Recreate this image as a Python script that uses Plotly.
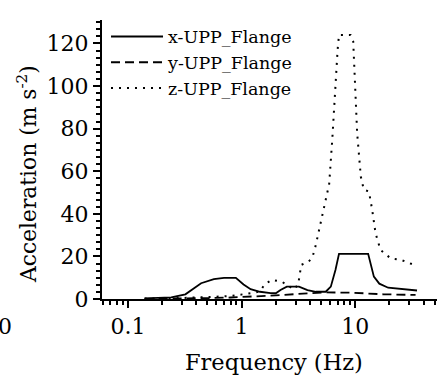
import plotly.graph_objects as go

freq_x = [0.14, 0.24, 0.32, 0.36, 0.44, 0.57, 0.70, 0.89, 1.04, 1.2, 1.45, 1.8, 2.0, 2.2, 2.5, 3.2, 3.8, 4.5, 5.5, 6.1, 6.7, 7.2, 13.0, 14.6, 16.3, 19.5, 35.0]
acc_x = [0.3, 0.8, 2.2, 4.2, 7.4, 9.3, 9.9, 9.9, 6.8, 4.6, 3.4, 2.8, 2.7, 4.2, 5.8, 5.8, 4.2, 3.4, 3.4, 5.8, 13.6, 21.2, 21.2, 10.5, 7.2, 5.3, 4.0]

freq_y = [0.14, 0.3, 0.5, 0.8, 1.0, 1.5, 2.0, 3.0, 4.0, 5.3, 9.1, 17.8, 34.0]
acc_y = [0.1, 0.2, 0.4, 0.7, 0.9, 1.3, 1.7, 2.3, 2.7, 3.1, 3.0, 2.2, 1.9]

freq_z = [0.14, 0.24, 0.44, 0.8, 1.2, 1.45, 1.6, 1.86, 2.28, 2.6, 2.9, 3.15, 3.35, 3.9, 4.2, 4.5, 5.0, 5.5, 5.9, 6.3, 6.5, 6.7, 7.0, 7.2, 9.1, 9.6, 10.0, 10.4, 11.2, 11.9, 13.2, 14.1, 15.1, 16.7, 20.5, 25.2, 35.0]
acc_z = [0.2, 0.3, 0.8, 1.4, 2.7, 3.5, 7.0, 9.0, 8.0, 6.0, 4.5, 7.0, 16.0, 17.6, 19.5, 25.4, 36.4, 46.6, 54.0, 76.0, 89.0, 104.6, 117.0, 124.0, 124.0, 121.0, 101.5, 78.0, 57.5, 51.3, 50.5, 41.9, 30.9, 23.0, 19.1, 18.4, 15.5]

names = ["x-UPP_Flange", "y-UPP_Flange", "z-UPP_Flange"]

x_major = [0.1, 1, 10]
x_major_text = ["0.1", "1", "10"]
x_minor = [0.06, 0.07, 0.08, 0.09, 0.2, 0.3, 0.4, 0.5, 0.6, 0.7, 0.8, 0.9,
           2, 3, 4, 5, 6, 7, 8, 9, 20, 30, 40, 50]
y_major = [0, 20, 40, 60, 80, 100, 120]

FONT = "DejaVu Serif"

fig = go.Figure()
fig.add_trace(go.Scatter(x=freq_x, y=acc_x, mode="lines", name=names[0], legendgroup="a",
                         line=dict(color="black", width=1.8)))
fig.add_trace(go.Scatter(x=freq_y, y=acc_y, mode="lines", name=names[1], legendgroup="b",
                         line=dict(color="black", width=1.8, dash="9px,5px")))
fig.add_trace(go.Scatter(x=freq_z, y=acc_z, mode="lines", name=names[2], legendgroup="c",
                         line=dict(color="black", width=2, dash="2px,6px")))

fig.update_layout(
    width=439, height=376,
    margin=dict(l=102, r=2, t=20, b=77),
    plot_bgcolor="white", paper_bgcolor="white",
    font=dict(family=FONT, size=22, color="black"),
    showlegend=True,
    legend=dict(x=0.012, y=1.005, xanchor="left", yanchor="top",
                font=dict(family=FONT, size=17.5, color="black"),
                bgcolor="rgba(0,0,0,0)", itemwidth=52, tracegroupgap=0),
    xaxis=dict(type="log", range=[-1.229, 1.72],
               tickvals=x_major, ticktext=x_major_text,
               ticks="outside", ticklen=7, tickwidth=1.5, tickcolor="black",
               tickfont=dict(family=FONT, size=22),
               minor=dict(tickvals=x_minor, ticks="outside", ticklen=4, tickwidth=1.5, tickcolor="black"),
               showline=True, linecolor="black", linewidth=2,
               showgrid=False, zeroline=False),
    yaxis=dict(range=[0, 131], tickvals=y_major,
               ticks="outside", ticklen=7, tickwidth=1.5, tickcolor="black",
               tickfont=dict(family=FONT, size=22),
               minor=dict(dtick=20/6, ticks="outside", ticklen=4, tickwidth=1.5, tickcolor="black"),
               showline=True, linecolor="black", linewidth=2,
               showgrid=False, zeroline=False),
    annotations=[
        dict(text="Frequency (Hz)", xref="paper", yref="paper",
             x=(273.5 - 102) / 335, y=(299 - 362) / 279, xanchor="center", yanchor="middle",
             showarrow=False, font=dict(family=FONT, size=22.5, color="black")),
        dict(text="Acceleration (m s<sup>-2</sup>)", xref="paper", yref="paper",
             x=(27 - 102) / 335, y=(299 - 174) / 279, xanchor="center", yanchor="middle",
             textangle=-90, showarrow=False, font=dict(family=FONT, size=21.8, color="black")),
        dict(text="0", xref="paper", yref="paper",
             x=(-4 - 102) / 335, y=(299 - 326) / 279, xanchor="left", yanchor="middle",
             showarrow=False, font=dict(family=FONT, size=22, color="black")),
    ],
)

fig.write_html("out.html", config={"displayModeBar": False},
               post_script="document.body.style.margin='0';")
